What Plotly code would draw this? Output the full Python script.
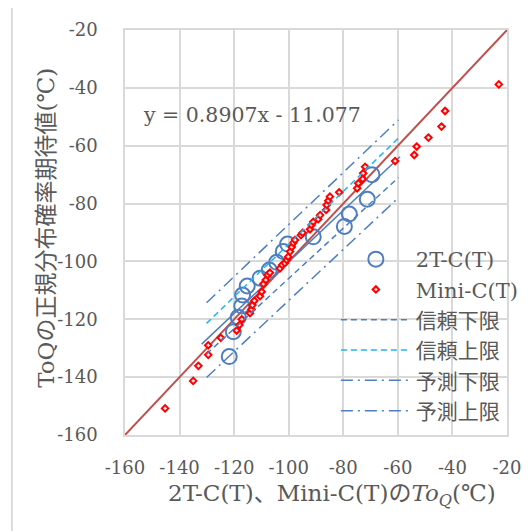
import plotly.graph_objects as go

# 2T-C(T) data (observed ToQ vs expected normal-probability value)
two_t_x = [-121.8, -120.3, -118.5, -117.2, -116.9, -115.2, -110.5, -107.1,
           -104.4, -102.0, -100.4, -91.0, -79.6, -77.8, -71.2, -69.5]
two_t_y = [-132.9, -124.3, -119.3, -115.4, -111.6, -108.5, -105.8, -103.0,
           -100.3, -96.6, -94.0, -91.5, -87.9, -83.6, -78.5, -70.0]

# Mini-C(T) data
mini_x = [-145.3, -135.0, -133.1, -129.5, -129.5, -124.9, -119.1, -118.1, -117.2,
          -114.2, -113.6, -113.3, -112.6, -110.5, -109.9, -109.3, -108.4, -107.7,
          -106.9, -103.2, -102.4, -101.4, -100.7, -100.2, -99.5, -98.9, -98.3,
          -97.7, -95.5, -94.9, -92.2, -91.6, -91.0, -89.2, -88.5, -86.3, -86.1,
          -85.5, -84.9, -81.5, -74.9, -74.5, -72.9, -72.7, -72.0, -61.0, -54.0,
          -53.1, -48.8, -44.0, -42.7, -23.0]
mini_y = [-150.8, -141.3, -136.1, -132.3, -129.0, -126.4, -123.9, -122.0, -120.0,
          -117.9, -116.6, -115.1, -113.6, -112.0, -110.5, -107.8, -106.4, -104.7,
          -103.9, -102.4, -101.2, -100.6, -99.5, -98.4, -96.6, -95.0, -93.6,
          -92.6, -90.9, -90.1, -88.9, -87.4, -86.3, -85.4, -84.0, -82.2, -80.5,
          -79.0, -77.6, -76.1, -74.7, -73.0, -71.5, -69.5, -67.3, -65.3, -63.2,
          -60.3, -57.2, -53.4, -48.0, -38.8]

# Regression line and bands
reg_x = [-131.9, -59.2]
reg_y = [-128.6, -63.8]
band_x = [-130.1, -59.8]
conf_lo = [-132.0, -71.0]
conf_hi = [-121.4, -57.4]
pred_lo = [-140.1, -78.0]
pred_hi = [-114.3, -51.1]

# 1:1 reference line
ref_line = [-160, -20]

ticks = [-160, -140, -120, -100, -80, -60, -40, -20]
tick_text = ["-160", "-140", "-120", "-100", "-80", "-60", "-40", "-20"]

FONT = "DejaVu Serif, Noto Sans CJK JP, serif"
GRAY = "#595959"
BLUE = "#4F7EC0"

fig = go.Figure()

fig.add_trace(go.Scatter(x=ref_line, y=ref_line, mode="lines",
                         line=dict(color="#C0504D", width=2), showlegend=False,
                         hoverinfo="skip"))
fig.add_trace(go.Scatter(x=reg_x, y=reg_y, mode="lines",
                         line=dict(color=BLUE, width=1.5), showlegend=False,
                         hoverinfo="skip"))

fig.add_trace(go.Scatter(x=two_t_x, y=two_t_y, mode="markers", name="2T-C(T)",
                         marker=dict(symbol="circle-open", size=15,
                                     line=dict(color=BLUE, width=2), color=BLUE)))
fig.add_trace(go.Scatter(x=mini_x, y=mini_y, mode="markers", name="Mini-C(T)",
                         marker=dict(symbol="diamond", size=5, color="#FFE6E6",
                                     line=dict(color="#FF0000", width=2))))

fig.add_trace(go.Scatter(x=band_x, y=conf_lo, mode="lines", name="信頼下限",
                         line=dict(color=BLUE, width=1.5, dash="6px,4px")))
fig.add_trace(go.Scatter(x=band_x, y=conf_hi, mode="lines", name="信頼上限",
                         line=dict(color="#1FB5EA", width=1.5, dash="6px,4px")))
fig.add_trace(go.Scatter(x=band_x, y=pred_lo, mode="lines", name="予測下限",
                         line=dict(color=BLUE, width=1.5, dash="12px,5px,2px,5px")))
fig.add_trace(go.Scatter(x=band_x, y=pred_hi, mode="lines", name="予測上限",
                         line=dict(color=BLUE, width=1.5, dash="12px,5px,2px,5px")))

axis_common = dict(range=[-160, -20], tickvals=ticks, ticktext=tick_text,
                   showgrid=True, gridcolor="#D9D9D9", gridwidth=1.5,
                   showline=True, linecolor="#D9D9D9", linewidth=1.5, mirror=True,
                   zeroline=False, ticks="",
                   tickfont=dict(family=FONT, size=18, color=GRAY))

fig.update_xaxes(**axis_common, ticklabelstandoff=16)
fig.update_yaxes(**axis_common, ticklabelstandoff=22)

fig.update_layout(
    width=531, height=531,
    margin=dict(l=117, r=32, t=22, b=104),
    paper_bgcolor="white", plot_bgcolor="white",
    font=dict(family=FONT, color=GRAY),
    legend=dict(x=0.552, y=0.484, xanchor="left", yanchor="top",
                bgcolor="rgba(0,0,0,0)", itemwidth=70,
                font=dict(family=FONT, size=21, color=GRAY),
                tracegroupgap=0),
    annotations=[
        dict(text="y = 0.8907x - 11.077", x=0.332, y=0.79, xref="paper", yref="paper",
             xanchor="center", yanchor="middle",
             showarrow=False, font=dict(family=FONT, size=20.5, color=GRAY)),
        dict(text="2T-C(T)、Mini-C(T)の<i>To</i><sub><i>Q</i></sub>(℃)",
             x=0.541, y=-0.147, xref="paper", yref="paper", showarrow=False,
             xanchor="center", yanchor="middle",
             font=dict(family=FONT, size=23, color=GRAY)),
        dict(text="ToQの正規分布確率期待値(℃)", textangle=-90,
             x=-0.209, y=0.512, xref="paper", yref="paper", showarrow=False,
             xanchor="center", yanchor="middle",
             font=dict(family=FONT, size=23, color=GRAY)),
    ],
    shapes=[dict(type="line", xref="paper", yref="paper", layer="above",
                 x0=-0.296, x1=-0.296, y0=-0.26, y1=1.06,
                 line=dict(color="#D0D0D0", width=1.5))],
)

fig.write_html("out.html")
